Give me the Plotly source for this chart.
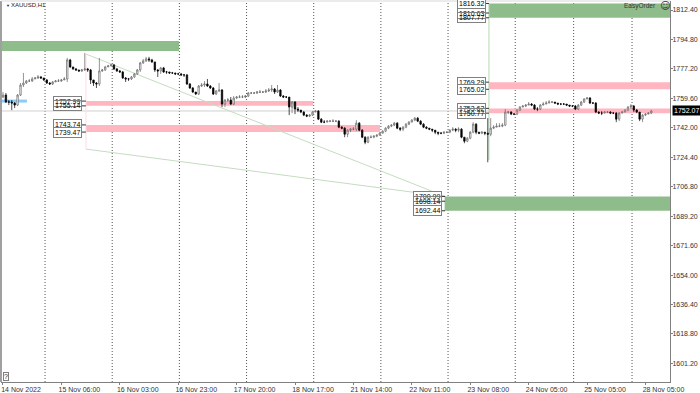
import plotly.graph_objects as go

closes = [
1761.6,1757.4,1757.4,1756.8,1755.6,1761.6,1767.6,1768.8,1770.0,1770.0,
1771.2,1771.8,1772.4,1771.8,1770.6,1768.8,1768.2,1769.4,1770.0,1770.0,
1770.6,1771.2,1782.6,1778.4,1777.2,1776.6,1776.0,1776.6,1777.2,1776.6,
1770.6,1768.8,1768.2,1776.0,1776.6,1778.4,1779.0,1779.6,1777.2,1776.0,
1775.4,1771.8,1771.2,1771.2,1772.4,1774.2,1776.6,1780.8,1782.0,1783.2,
1782.6,1781.4,1776.6,1776.0,1777.8,1775.4,1775.4,1774.8,1774.8,1774.2,
1774.2,1773.6,1773.6,1768.2,1765.8,1763.4,1762.2,1767.0,1767.6,1768.2,
1767.0,1765.8,1762.2,1764.0,1764.6,1756.2,1758.6,1758.6,1756.2,1759.8,
1760.4,1760.4,1760.4,1761.0,1762.8,1762.8,1762.8,1763.4,1763.4,1763.4,
1764.0,1764.6,1765.2,1763.4,1764.6,1761.0,1760.4,1760.4,1754.4,1757.4,
1753.2,1752.6,1751.4,1749.6,1749.0,1749.6,1751.4,1752.0,1747.2,1745.4,
1745.4,1746.0,1746.0,1746.0,1746.0,1742.4,1741.8,1738.2,1740.6,1741.2,
1741.2,1744.8,1740.6,1736.4,1733.4,1736.4,1736.4,1737.0,1737.6,1738.8,
1740.0,1741.8,1743.0,1743.6,1744.8,1741.8,1741.2,1742.4,1744.2,1745.4,
1746.6,1747.8,1746.0,1744.2,1742.4,1741.8,1741.2,1740.6,1739.4,1738.8,
1738.8,1739.4,1739.4,1740.6,1741.2,1740.6,1741.2,1736.4,1734.0,1735.8,
1739.4,1744.2,1739.4,1738.8,1739.4,1738.8,1738.2,1741.8,1742.4,1743.0,
1743.0,1743.6,1751.4,1751.4,1750.2,1750.2,1752.6,1754.4,1755.0,1755.6,
1756.2,1755.6,1753.2,1753.2,1755.6,1756.2,1756.8,1757.4,1757.4,1756.8,
1756.2,1756.2,1756.2,1755.6,1755.0,1755.0,1753.2,1755.6,1757.4,1759.2,
1759.8,1756.8,1756.8,1751.4,1750.8,1750.8,1751.4,1751.4,1750.8,1750.8,
1747.2,1750.8,1751.4,1752.6,1754.4,1755.0,1752.6,1751.4,1747.2,1749.6,
1750.2,1750.8,1752.07]

opens = [1760.4] + closes[:-1]

highs = [
1763.4,1762.8,1758.6,1758.6,1757.4,1762.2,1768.8,1774.8,1770.6,1771.2,
1772.4,1772.4,1773.6,1773.0,1771.8,1771.2,1769.4,1770.0,1770.6,1771.2,
1771.2,1772.4,1783.8,1783.2,1778.4,1777.8,1776.6,1777.2,1786.8,1777.8,
1777.2,1770.6,1769.4,1783.8,1777.2,1779.0,1779.6,1780.2,1780.2,1777.8,
1776.6,1776.0,1772.4,1771.8,1773.0,1774.8,1777.2,1781.4,1783.2,1784.4,
1784.4,1783.2,1781.4,1777.2,1778.4,1778.4,1776.0,1775.4,1775.4,1774.8,
1774.8,1774.8,1774.2,1774.2,1768.8,1766.4,1763.4,1767.6,1768.8,1770.0,
1771.2,1767.6,1766.4,1764.6,1768.8,1765.2,1759.2,1759.8,1760.4,1761.0,
1761.0,1761.6,1761.6,1761.6,1763.4,1763.4,1763.4,1764.0,1764.6,1764.0,
1765.2,1765.8,1767.6,1765.8,1767.6,1765.2,1761.6,1761.0,1760.4,1758.0,
1758.0,1754.4,1752.6,1752.0,1750.2,1750.2,1752.0,1752.6,1752.6,1747.8,
1746.6,1746.6,1746.6,1747.2,1746.6,1746.6,1743.0,1742.4,1741.2,1741.8,
1742.4,1746.6,1745.4,1741.2,1737.0,1737.0,1737.6,1737.6,1738.2,1739.4,
1740.6,1742.4,1743.6,1744.2,1745.4,1745.4,1742.4,1743.0,1744.8,1746.0,
1747.2,1748.4,1748.4,1746.6,1744.8,1743.0,1741.8,1741.2,1740.6,1739.4,
1739.4,1740.0,1740.0,1741.2,1742.4,1741.8,1742.4,1741.8,1736.4,1736.4,
1740.0,1745.4,1744.8,1739.4,1740.0,1739.4,1747.8,1747.8,1743.6,1744.8,
1744.8,1744.8,1753.2,1752.0,1752.0,1750.8,1753.2,1755.0,1755.6,1756.2,
1757.4,1756.8,1756.2,1754.4,1756.2,1757.4,1758.0,1758.6,1758.0,1757.4,
1756.8,1756.8,1756.8,1756.2,1755.6,1755.6,1755.6,1756.2,1758.0,1759.8,
1760.4,1760.4,1757.4,1757.4,1752.0,1752.0,1752.0,1752.0,1752.0,1751.4,
1751.4,1751.4,1752.0,1753.2,1755.0,1756.2,1755.6,1753.2,1751.4,1750.2,
1750.8,1751.4,1752.6]

lows = [
1759.8,1756.8,1755.6,1752.6,1753.8,1755.0,1761.0,1766.4,1768.2,1769.4,
1769.4,1771.2,1771.2,1771.2,1770.0,1768.2,1767.6,1767.6,1769.4,1769.4,
1769.4,1770.6,1769.4,1777.8,1776.6,1776.0,1775.4,1775.4,1776.0,1775.4,
1768.2,1767.0,1765.8,1767.0,1775.4,1776.0,1778.4,1779.0,1776.6,1775.4,
1774.8,1771.2,1769.4,1770.0,1770.6,1771.8,1773.6,1775.4,1780.2,1781.4,
1781.4,1780.8,1775.4,1772.4,1774.2,1774.8,1774.2,1774.2,1774.2,1773.6,
1773.6,1773.0,1772.4,1767.6,1765.2,1762.8,1761.6,1761.6,1766.4,1766.4,
1766.4,1765.2,1761.6,1761.6,1763.4,1754.4,1754.4,1757.4,1755.6,1755.6,
1759.2,1759.8,1759.8,1759.8,1760.4,1762.2,1762.2,1762.2,1762.8,1762.8,
1762.8,1763.4,1763.4,1762.2,1762.8,1760.4,1759.8,1759.8,1749.6,1750.8,
1750.2,1751.4,1750.8,1749.0,1748.4,1748.4,1749.0,1751.4,1746.6,1744.8,
1744.8,1745.4,1745.4,1745.4,1745.4,1741.8,1741.2,1736.4,1736.4,1739.4,
1740.6,1740.0,1740.0,1735.8,1732.2,1732.8,1735.8,1735.8,1736.4,1737.6,
1738.8,1739.4,1741.2,1742.4,1743.0,1741.2,1740.0,1740.0,1741.8,1743.6,
1745.4,1746.0,1745.4,1743.6,1741.8,1741.2,1740.6,1739.4,1738.2,1737.6,
1738.2,1738.2,1738.8,1738.8,1740.0,1739.4,1739.4,1735.8,1732.8,1733.4,
1735.2,1738.8,1738.2,1738.2,1738.2,1737.6,1721.4,1737.0,1741.2,1742.4,
1742.4,1742.4,1743.0,1750.2,1749.6,1749.6,1749.6,1752.0,1754.4,1754.4,
1755.6,1755.0,1752.6,1752.0,1752.6,1755.6,1756.2,1756.8,1756.8,1756.2,
1755.6,1755.6,1755.6,1755.0,1754.4,1754.4,1752.6,1752.6,1755.0,1756.8,
1759.2,1756.2,1756.2,1750.8,1750.2,1749.6,1750.8,1750.8,1750.2,1750.2,
1745.4,1746.0,1750.8,1751.4,1752.0,1753.2,1751.4,1750.8,1746.0,1745.4,
1749.0,1750.2,1750.2]

bar_index = list(range(len(closes)))

x_tick_index = [0, 20, 40, 60, 80, 100, 120, 140, 160, 180, 200, 220]
x_tick_text = ["14 Nov 2022", "15 Nov 06:00", "16 Nov 03:00", "16 Nov 23:00", "17 Nov 20:00", "18 Nov 17:00",
               "21 Nov 14:00", "22 Nov 11:00", "23 Nov 08:00", "24 Nov 05:00", "25 Nov 05:00", "28 Nov 05:00"]
y_ticks = [1812.40, 1794.80, 1777.20, 1759.60, 1742.00, 1724.40, 1706.80, 1689.20, 1671.60, 1654.00, 1636.40, 1618.80, 1601.20]
day_breaks = [14.4, 37.4, 60.4, 83.4, 106.4, 129.4, 152.4, 175.4, 195.4, 215.4]
last_price = 1752.07

# price zones: (start bar, end bar, top, bottom)
green_zones = [(-0.7, 60.3, 1793.9, 1787.9), (151.4, 228.5, 1700.99, 1692.44), (166.4, 228.5, 1816.32, 1807.77)]
pink_zones = [(28.4, 106.2, 1757.99, 1755.14), (28.4, 129.1, 1743.74, 1739.47),
              (166.4, 228.5, 1769.29, 1765.02), (166.4, 228.5, 1753.62, 1750.77)]
# price labels: (right bar of box, bar the leader reaches, price, text)
price_labels = [(27.0, 28.4, 1757.99, "1757.99"), (27.0, 28.4, 1755.14, "1755.14"),
                (27.0, 28.4, 1743.74, "1743.74"), (27.0, 28.4, 1739.47, "1739.47"),
                (150.3, 151.4, 1700.99, "1700.99"), (150.3, 151.4, 1698.14, "1698.14"), (150.3, 151.4, 1692.44, "1692.44"),
                (165.4, 166.4, 1816.32, "1816.32"), (165.4, 166.4, 1810.63, "1810.63"), (165.4, 166.4, 1807.77, "1807.77"),
                (165.4, 166.4, 1769.29, "1769.29"), (165.4, 166.4, 1765.02, "1765.02"),
                (165.4, 166.4, 1753.62, "1753.62"), (165.4, 166.4, 1750.77, "1750.77")]
see_through_labels = ["1755.14", "1698.14", "1807.77", "1750.77", "1810.63"]

FONT = "Liberation Sans"
FS = 7
shapes = []
for d in day_breaks:
    shapes.append(dict(type="line", x0=d, x1=d, yref="paper", y0=0, y1=1, layer="below",
                       line=dict(color="#555555", width=1, dash="1px,2px")))
shapes.append(dict(type="line", xref="paper", x0=0, x1=1, y0=last_price, y1=last_price, layer="below",
                   line=dict(color="#d0d0d0", width=1)))
for x0, x1, top, bot in green_zones:
    shapes.append(dict(type="rect", x0=x0, x1=x1, y0=bot, y1=top, layer="below", fillcolor="#8FBC8B", line=dict(width=0)))
for x0, x1, top, bot in pink_zones:
    shapes.append(dict(type="rect", x0=x0, x1=x1, y0=bot, y1=top, layer="below", fillcolor="#FFB6C1", line=dict(width=0)))
shapes += [
    dict(type="line", x0=-0.7, x1=8.2, y0=1758.0, y1=1758.0, layer="below", line=dict(color="#87CEFA", width=3)),
    dict(type="line", x0=28.4, x1=151.4, y0=1786.1, y1=1700.99, layer="below", line=dict(color="#c4dcc0", width=1)),
    dict(type="line", x0=28.4, x1=151.4, y0=1729.3, y1=1700.99, layer="below", line=dict(color="#c4dcc0", width=1)),
    dict(type="line", x0=28.4, x1=28.4, y0=1786.1, y1=1729.3, layer="below", line=dict(color="#ffdde2", width=1)),
    dict(type="line", x0=151.4, x1=151.4, y0=1700.99, y1=1692.44, layer="below", line=dict(color="#8FBC8B", width=1)),
    dict(type="line", x0=166.4, x1=166.4, y0=1816.32, y1=1722.8, layer="below", line=dict(color="#b5d8b0", width=1)),
    dict(type="line", xref="paper", yref="paper", x0=0, x1=0, y0=0, y1=1, line=dict(color="#a0a0a0", width=2)),
    dict(type="line", xref="paper", yref="paper", x0=0, x1=1, y0=1, y1=1, line=dict(color="#d8d8d8", width=1)),
]
annotations = []
for xr, xl, p, t in price_labels:
    shapes.append(dict(type="line", x0=xr, x1=xl, y0=p, y1=p, line=dict(color="#333333", width=1)))
    annotations.append(dict(x=xr, y=p, text=t, showarrow=False, xanchor="right", yanchor="middle",
                            bgcolor="rgba(255,255,255,0)" if t in see_through_labels else "white",
                            bordercolor="#808080", borderwidth=1, borderpad=1,
                            font=dict(family=FONT, size=FS, color="black")))
annotations += [
    dict(xref="paper", x=1.003, xanchor="left", y=last_price, text=f"{last_price:.2f}", showarrow=False,
         bgcolor="black", font=dict(family=FONT, size=FS, color="white"), borderpad=1),
    dict(xref="paper", yref="paper", x=0.0125, y=0.9895, xanchor="left", yanchor="middle", showarrow=False,
         text="XAUUSD,H1", font=dict(family=FONT, size=6, color="#222222")),
    dict(xref="paper", yref="paper", x=0.004, y=0.9895, xanchor="left", yanchor="middle", showarrow=False,
         text="▼", font=dict(family=FONT, size=4, color="#222222")),
    dict(xref="paper", yref="paper", x=0.982, y=0.987, xanchor="right", yanchor="middle", showarrow=False,
         text="EasyOrder", font=dict(family=FONT, size=6.5, color="#333333")),
    dict(xref="paper", yref="paper", x=0.982, y=0.987, xanchor="left", yanchor="middle", showarrow=False,
         text="☺", font=dict(family="DejaVu Sans", size=10, color="#333333")),
    dict(xref="paper", yref="paper", x=0.003, y=0.003, xanchor="left", yanchor="bottom", showarrow=False,
         text="?", bgcolor="white", bordercolor="#808080", borderwidth=1, borderpad=0,
         font=dict(family=FONT, size=FS, color="#222222")),
]

fig = go.Figure(go.Candlestick(
    x=bar_index, open=opens, high=highs, low=lows, close=closes, whiskerwidth=0,
    increasing=dict(line=dict(color="#666666", width=0.7), fillcolor="#ffffff"),
    decreasing=dict(line=dict(color="#000000", width=0.7), fillcolor="#000000"),
    showlegend=False))

fig.update_layout(
    width=700, height=393, margin=dict(l=1, r=30, t=1, b=11), autosize=False,
    paper_bgcolor="white", plot_bgcolor="white", showlegend=False, shapes=shapes, annotations=annotations,
    xaxis=dict(range=[-0.68, 228.4], rangeslider=dict(visible=False), tickmode="array", tickvals=x_tick_index,
               ticktext=x_tick_text, showgrid=False, zeroline=False, ticks="outside", ticklen=2, tickcolor="#808080",
               showline=True, linecolor="#808080", linewidth=1, tickangle=0, ticklabelshift=18, ticklabelstandoff=-1,
               ticklabeloverflow="allow", automargin=False, tickfont=dict(family=FONT, size=FS, color="#333333")),
    yaxis=dict(range=[1590.1, 1817.8], side="right", tickmode="array", tickvals=y_ticks,
               ticktext=[f"{v:.2f}" for v in y_ticks], showgrid=False, zeroline=False, ticks="outside", ticklen=2,
               tickcolor="#808080", showline=True, linecolor="#808080", linewidth=1, automargin=False,
               ticklabelstandoff=-2, tickfont=dict(family=FONT, size=FS, color="#333333")),
)
fig.write_html("out.html", config=dict(displayModeBar=False),
               post_script="document.body.style.margin='0';document.body.style.overflow='hidden';")
